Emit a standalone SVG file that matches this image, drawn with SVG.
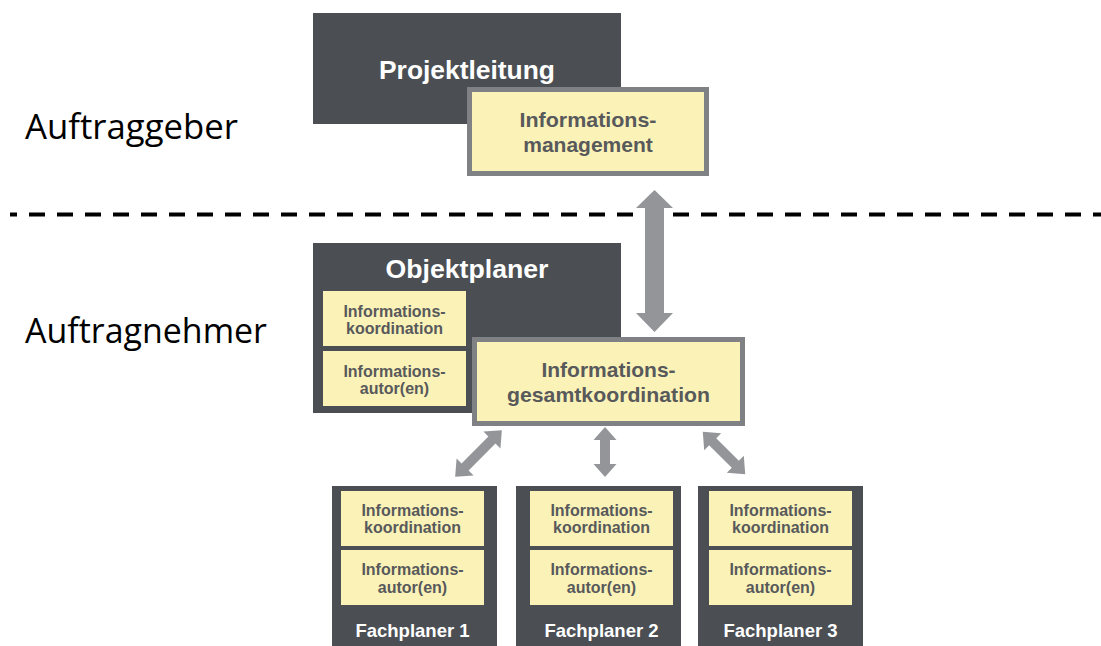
<svg xmlns="http://www.w3.org/2000/svg" width="1101" height="646" viewBox="0 0 1101 646">
<style>
.dark{fill:#4b4f53}
.yel{fill:#fbf2b8}
.yelb{fill:#fbf2b8;stroke:#808184;stroke-width:5}
.t{font-family:"Liberation Sans",Arial,sans-serif;font-weight:bold;text-anchor:middle}
.w{fill:#ffffff}
.g{fill:#58595b}
.s{font-size:16px}
.side{font-family:"Open Sans","Noto Sans",sans-serif;font-size:34px;fill:#000}
.arr{fill:#939598}
</style>
<rect width="1101" height="646" fill="#ffffff"/>
<g id="labels">
<text class="side" x="25" y="139" textLength="213" lengthAdjust="spacingAndGlyphs">Auftraggeber</text>
<text class="side" x="25" y="343" textLength="242" lengthAdjust="spacingAndGlyphs">Auftragnehmer</text>
</g>
<g id="divider">
<line x1="10" y1="214.5" x2="1101" y2="214.5" stroke="#000" stroke-width="4" stroke-dasharray="16 12" stroke-dashoffset="9"/>
</g>
<g id="projektleitung">
<rect class="dark" x="313" y="13" width="308" height="111"/>
<text class="t w" x="467" y="79" font-size="26" textLength="176" lengthAdjust="spacingAndGlyphs">Projektleitung</text>
</g>
<g id="informationsmanagement">
<rect class="yelb" x="469.5" y="89.5" width="237" height="84"/>
<text class="t g" x="588" y="127" font-size="21" textLength="137" lengthAdjust="spacingAndGlyphs">Informations-</text>
<text class="t g" x="588" y="152" font-size="21">management</text>
</g>
<g id="objektplaner">
<rect class="dark" x="313" y="243" width="308" height="170"/>
<text class="t w" x="467" y="278" font-size="26" textLength="163" lengthAdjust="spacingAndGlyphs">Objektplaner</text>
<rect class="yel" x="323" y="291" width="143" height="55"/>
<text class="t g s" x="394.5" y="317">Informations-</text>
<text class="t g s" x="394.5" y="334">koordination</text>
<rect class="yel" x="323" y="351" width="143" height="55"/>
<text class="t g s" x="394.5" y="377">Informations-</text>
<text class="t g s" x="394.5" y="394">autor(en)</text>
</g>
<g id="gesamtkoordination">
<rect class="yelb" x="474.5" y="339.5" width="268" height="84"/>
<text class="t g" x="608.5" y="377" font-size="21">Informations-</text>
<text class="t g" x="608.5" y="402" font-size="21" textLength="203" lengthAdjust="spacingAndGlyphs">gesamtkoordination</text>
</g>
<g id="fachplaner1">
<rect class="dark" x="332" y="486" width="165" height="160"/>
<rect class="yel" x="341" y="491" width="143" height="55"/>
<text class="t g s" x="412.5" y="516">Informations-</text>
<text class="t g s" x="412.5" y="533">koordination</text>
<rect class="yel" x="341" y="550" width="143" height="55"/>
<text class="t g s" x="412.5" y="575">Informations-</text>
<text class="t g s" x="412.5" y="593">autor(en)</text>
<text class="t w" x="412.5" y="637" font-size="18.5">Fachplaner 1</text>
</g>
<g id="fachplaner2">
<rect class="dark" x="516" y="486" width="165" height="160"/>
<rect class="yel" x="530" y="491" width="143" height="55"/>
<text class="t g s" x="601.5" y="516">Informations-</text>
<text class="t g s" x="601.5" y="533">koordination</text>
<rect class="yel" x="530" y="550" width="143" height="55"/>
<text class="t g s" x="601.5" y="575">Informations-</text>
<text class="t g s" x="601.5" y="593">autor(en)</text>
<text class="t w" x="601.5" y="637" font-size="18.5">Fachplaner 2</text>
</g>
<g id="fachplaner3">
<rect class="dark" x="698" y="486" width="165" height="160"/>
<rect class="yel" x="709" y="491" width="143" height="55"/>
<text class="t g s" x="780.5" y="516">Informations-</text>
<text class="t g s" x="780.5" y="533">koordination</text>
<rect class="yel" x="709" y="550" width="143" height="55"/>
<text class="t g s" x="780.5" y="575">Informations-</text>
<text class="t g s" x="780.5" y="593">autor(en)</text>
<text class="t w" x="780.5" y="637" font-size="18.5">Fachplaner 3</text>
</g>
<g id="connectors">
<polygon class="arr" points="654.5,190 673,208 664,208 664,313 673,313 654.5,332 636,313 645,313 645,208 636,208"/>
<polygon class="arr" points="605,427 616.5,440 610,440 610,464 616.5,464 605,477 593.5,464 600,464 600,440 593.5,440"/>
<polygon class="arr" transform="translate(478.5,453.5) rotate(-45)" points="-33,0 -19,-12 -19,-5 19,-5 19,-12 33,0 19,12 19,5 -19,5 -19,12"/>
<polygon class="arr" transform="translate(724,453) rotate(45)" points="-30,0 -16,-12 -16,-5 16,-5 16,-12 30,0 16,12 16,5 -16,5 -16,12"/>
</g>
</svg>
